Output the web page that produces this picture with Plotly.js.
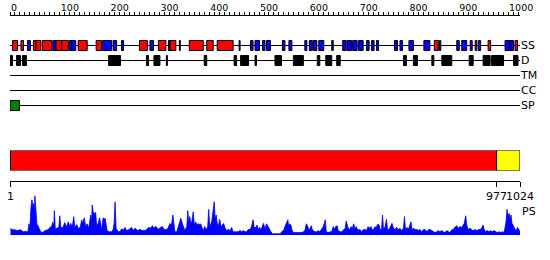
<!DOCTYPE html>
<html><head><meta charset="utf-8">
<script src="https://cdn.plot.ly/plotly-3.0.1.min.js"></script>
<style>html,body{margin:0;padding:0;background:#fff}#chart{width:550px;height:260px}</style>
</head><body><div id="chart"></div>
<script>
// ---------- data ----------
const seqLength = 1024;
const trackNames = ['SS', 'D', 'TM', 'CC', 'SP'];

// secondary structure: H = helix (red), E = strand (blue)
const ssStart = [5,22,35,47,52,65,86,92,104,119,124,137,173,186,207,224,260,281,298,318,321,340,360,395,416,460,483,492,507,515,
                 547,560,592,601,609,620,646,668,677,688,700,716,726,736,772,783,801,831,852,862,897,907,924,934,940,960,994,1004,1014];
const ssEnd   = [15,27,41,52,62,84,92,104,117,124,132,155,184,204,214,228,276,288,313,321,333,342,388,408,448,462,488,501,512,523,
                 552,566,596,607,616,630,649,675,686,697,709,721,731,740,778,788,810,843,860,865,902,917,928,937,945,965,1003,1011,1019];
const ssType  = ['H','H','E','H','H','H','E','H','H','E','E','H','H','E','E','E','H','E','H','E','H','E','H','H','H','E','E','E','E','E',
                 'E','E','E','E','E','E','E','E','E','E','E','E','E','E','E','E','E','E','H','E','E','E','E','H','E','H','E','E','H'];

// disordered regions
const disStart = [0,13,25,198,274,289,314,390,450,463,492,532,569,617,634,656,790,810,847,867,922,950,967,1011];
const disEnd   = [5,21,33,222,278,301,316,395,455,479,495,545,589,622,646,663,796,818,851,887,930,964,991,1020];

// signal peptide
const spStart = [0];
const spEnd = [19];

// domains (bottom bar)
const domainStart = [1, 977];
const domainEnd = [977, 1024];

// PS score profile
const psPos = [1,5,10,15,21,27,31,36,38,40,42,44,46,48,49,50,52,54,56,59,62,67,70,76,80,84,86,88,89,91,94,98,100,102,106,110,113,117,120,122,125,128,130,134,137,141,144,146,149,152,155,158,162,164,165,167,169,172,174,177,180,182,184,187,189,191,193,195,199,204,207,209,211,213,217,221,224,228,231,234,239,244,248,251,256,261,
  266,271,274,279,282,286,289,292,295,299,302,306,308,311,315,318,321,324,327,329,331,335,338,341,343,346,349,351,355,357,359,361,363,365,368,370,373,375,378,381,383,386,389,391,394,397,399,401,405,407,410,412,414,416,418,421,424,426,429,432,435,438,442,445,448,452,458,462,465,468,472,475,478,482,485,488,490,493,496,498,501,504,507,509,512,515,
  524,527,532,537,542,544,547,550,552,555,558,559,561,564,566,569,576,582,586,589,592,595,598,600,603,605,607,610,612,616,619,622,626,629,631,633,635,639,643,646,649,651,654,657,659,663,666,670,673,675,677,679,682,685,687,690,693,695,698,701,703,706,709,713,716,719,722,725,727,730,733,735,738,741,744,746,748,750,753,756,758,761,764,767,770,773,776,780,783,
  786,790,792,794,797,800,803,805,807,811,813,817,820,823,827,830,833,837,840,843,847,850,853,857,860,863,867,870,873,877,880,883,887,890,893,897,900,904,907,910,912,915,917,920,924,927,930,934,937,940,944,947,950,952,955,958,962,965,968,972,975,978,982,985,988,992,994,996,998,1000,1002,1004,1006,1008,1010,1012,1014,1017,1019,1022,1024];
const psVal = [0.17,0.13,0.13,0.11,0.13,0.08,0.09,0.08,0.28,0.19,0.67,0.88,0.71,0.79,0.54,0.98,0.63,0.27,0.24,0.14,0.07,0.07,0.11,0.13,0.17,0.23,0.32,0.21,0.61,0.14,0.17,0.19,0.48,0.19,0.18,0.31,0.19,0.33,0.21,0.29,0.19,0.46,0.19,0.26,0.17,0.19,0.38,0.29,0.43,0.21,0.28,0.17,0.50,0.38,0.75,0.58,0.54,0.56,0.23,0.29,0.43,0.19,0.13,0.43,0.39,0.42,0.25,0.11,0.08,0.08,0.14,0.29,0.83,0.17,0.08,0.09,0.15,0.13,0.19,0.11,0.14,0.19,0.11,0.17,0.11,0.14,
  0.11,0.11,0.14,0.19,0.17,0.23,0.17,0.21,0.19,0.14,0.19,0.21,0.17,0.13,0.14,0.19,0.29,0.23,0.50,0.19,0.08,0.08,0.21,0.33,0.42,0.29,0.17,0.11,0.21,0.61,0.29,0.46,0.29,0.33,0.58,0.25,0.33,0.25,0.29,0.25,0.28,0.17,0.13,0.21,0.13,0.21,0.64,0.21,0.33,0.50,0.83,0.38,0.50,0.29,0.21,0.39,0.19,0.25,0.29,0.17,0.11,0.14,0.11,0.19,0.08,0.08,0.08,0.11,0.08,0.11,0.08,0.08,0.13,0.14,0.21,0.38,0.21,0.17,0.25,0.14,0.19,0.13,0.21,0.29,0.14,0.28,
  0.08,0.03,0.03,0.03,0.03,0.06,0.11,0.13,0.21,0.29,0.38,0.21,0.28,0.25,0.13,0.06,0.06,0.06,0.06,0.08,0.11,0.28,0.21,0.11,0.17,0.23,0.13,0.11,0.08,0.08,0.11,0.08,0.14,0.21,0.29,0.38,0.08,0.06,0.08,0.08,0.21,0.14,0.21,0.23,0.11,0.08,0.08,0.13,0.17,0.35,0.21,0.17,0.14,0.21,0.14,0.28,0.14,0.21,0.13,0.14,0.13,0.08,0.13,0.14,0.11,0.21,0.17,0.21,0.13,0.14,0.21,0.17,0.27,0.25,0.11,0.13,0.50,0.11,0.21,0.39,0.13,0.14,0.23,0.29,0.17,0.14,0.19,0.13,0.17,
  0.11,0.17,0.46,0.14,0.19,0.14,0.25,0.33,0.14,0.17,0.13,0.14,0.11,0.14,0.08,0.13,0.14,0.08,0.13,0.14,0.11,0.08,0.06,0.08,0.11,0.08,0.11,0.08,0.06,0.11,0.08,0.06,0.13,0.14,0.19,0.23,0.17,0.21,0.19,0.25,0.29,0.48,0.25,0.14,0.17,0.13,0.11,0.14,0.11,0.13,0.14,0.17,0.25,0.14,0.08,0.11,0.08,0.11,0.08,0.11,0.08,0.06,0.08,0.06,0.08,0.06,0.19,0.33,0.64,0.46,0.54,0.42,0.50,0.29,0.25,0.19,0.14,0.11,0.19,0.13,0.08];

// ---------- styling ----------
const W = 550, H = 260;
const xDomain = [10 / W, 520 / W];
const px2paper = p => (H - p) / H;
const helixColor = '#ff0000', strandColor = '#0000ff', spColor = '#008000';
const domainColors = ['#ff0000', '#ffff00'];
const boxH = 10 / 15;

function boxTrace(starts, ends, track, color) {
  return {
    type: 'bar', orientation: 'h', xaxis: 'x', yaxis: 'y',
    base: starts, x: starts.map((s, i) => ends[i] - s), y: starts.map(() => track),
    width: boxH, marker: {color: color, line: {color: 'black', width: 1}},
    hoverinfo: 'skip', showlegend: false
  };
}
const hIdx = ssType.map((t, i) => t === 'H' ? i : -1).filter(i => i >= 0);
const eIdx = ssType.map((t, i) => t === 'E' ? i : -1).filter(i => i >= 0);

const traces = [
  boxTrace(hIdx.map(i => ssStart[i]), hIdx.map(i => ssEnd[i]), 'SS', helixColor),
  boxTrace(eIdx.map(i => ssStart[i]), eIdx.map(i => ssEnd[i]), 'SS', strandColor),
  boxTrace(disStart, disEnd, 'D', 'black'),
  boxTrace(spStart, spEnd, 'SP', spColor),
  {
    type: 'bar', orientation: 'h', xaxis: 'x', yaxis: 'y3',
    base: domainStart, x: domainStart.map((s, i) => domainEnd[i] - s), y: domainStart.map(() => 0),
    width: 1, marker: {color: domainColors, line: {color: 'black', width: 1}},
    hoverinfo: 'skip', showlegend: false
  },
  {
    type: 'scatter', mode: 'lines', xaxis: 'x', yaxis: 'y2',
    x: psPos, y: psVal, fill: 'tozeroy', fillcolor: '#0000ff',
    line: {color: '#0000ff', width: 0.8}, hoverinfo: 'skip', showlegend: false
  },
  {type: 'scatter', mode: 'markers', xaxis: 'x2', yaxis: 'y', x: [], y: [], showlegend: false, hoverinfo: 'skip'},
  {type: 'scatter', mode: 'markers', xaxis: 'x3', yaxis: 'y3', x: [], y: [], showlegend: false, hoverinfo: 'skip'}
];

const baseLines = trackNames.map((t, i) => ({
  type: 'line', xref: 'x', yref: 'y', x0: 0, x1: seqLength, y0: i, y1: i,
  line: {color: 'black', width: 1}, layer: 'below'
}));

const layout = {
  width: W, height: H, margin: {l: 0, r: 0, t: 0, b: 0},
  paper_bgcolor: 'white', plot_bgcolor: 'rgba(0,0,0,0)',
  showlegend: false, barmode: 'overlay',
  font: {family: 'DejaVu Sans', color: '#000'},
  xaxis: {domain: xDomain, range: [0, seqLength], visible: false, anchor: 'y', fixedrange: true},
  xaxis2: {
    domain: xDomain, range: [0, seqLength], overlaying: 'x', anchor: 'free', position: px2paper(14.5), side: 'top',
    showline: true, linecolor: 'black', linewidth: 1, ticks: 'outside', ticklen: 3, tickcolor: 'black', tickwidth: 1,
    tick0: 0, dtick: 100, minor: {dtick: 10, ticks: 'outside', ticklen: 3, tickcolor: 'black', tickwidth: 1},
    ticklabelposition: 'outside right', tickangle: 0, tickfont: {size: 9.5}, showgrid: false, zeroline: false
  },
  xaxis3: {
    domain: xDomain, range: [0, seqLength], overlaying: 'x', anchor: 'free', position: px2paper(180.5), side: 'bottom',
    showline: true, linecolor: 'black', linewidth: 1, ticks: 'outside', ticklen: 5, tickcolor: 'black',
    tickvals: [domainStart[0], domainEnd[0], domainEnd[1]], tickangle: 0, tickfont: {size: 11},
    showgrid: false, zeroline: false
  },
  yaxis: {
    domain: [px2paper(113), px2paper(38)], type: 'category', categoryarray: trackNames, categoryorder: 'array',
    range: [4.5, -0.5], side: 'right', anchor: 'x', showgrid: false, zeroline: false, showline: false,
    ticks: '', tickfont: {size: 11}, fixedrange: true
  },
  yaxis2: {domain: [px2paper(235), px2paper(195)], range: [0, 1], visible: false, anchor: 'x'},
  yaxis3: {domain: [px2paper(170.5), px2paper(150.5)], range: [-0.5, 0.5], visible: false, anchor: 'x'},
  shapes: baseLines,
  annotations: [{
    text: 'PS', xref: 'paper', yref: 'paper', x: 520 / W, y: px2paper(211),
    xanchor: 'left', yanchor: 'middle', showarrow: false, font: {size: 11}
  }]
};

Plotly.newPlot('chart', traces, layout, {staticPlot: true, displayModeBar: false});
</script></body></html>
